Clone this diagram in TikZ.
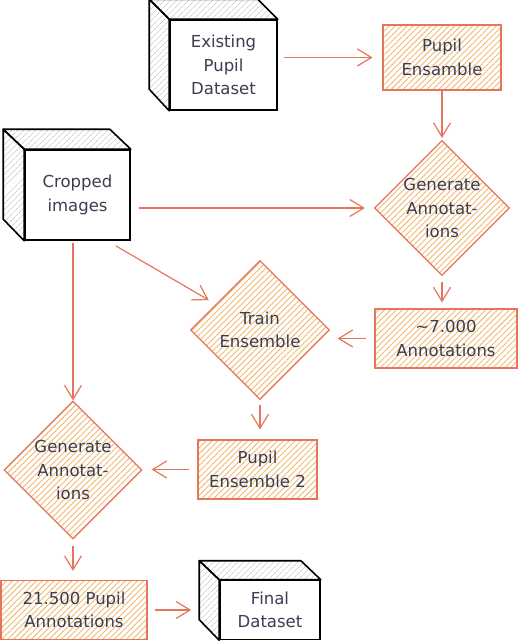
\documentclass[tikz,border=0pt]{standalone}
\usepackage{fontspec}
\setmainfont{DejaVu Sans}
\usetikzlibrary{shapes.geometric,arrows.meta,patterns.meta,calc}
\definecolor{edge}{HTML}{E5765B}
\definecolor{hatch}{HTML}{F2B872}
\definecolor{ink}{HTML}{3A3E52}
\definecolor{cubehatch}{HTML}{B8B8B8}
\tikzset{
 txt/.style={text=ink, font=\fontsize{16.5}{23.5}\selectfont, align=center},
 procbox/.style={txt, draw=edge, line width=1.2pt, pattern={Lines[angle=45,distance=4.2pt,line width=0.9pt]}, pattern color=hatch, inner sep=0pt},
 decide/.style={procbox, shape=diamond, aspect=1, inner sep=-8pt},
 frontface/.style={txt, draw=black, line width=1.6pt, fill=white, inner sep=0pt},
 sideface/.style={draw=black, line width=1.6pt, line join=round, pattern={Lines[angle=45,distance=4pt,line width=0.5pt]}, pattern color=cubehatch},
 arr/.style={draw=edge, line width=1.2pt, -{Straight Barb[length=14pt,width=17pt,line width=1.2pt]}},
}
\begin{document}
\begin{tikzpicture}[x=1pt,y=-1pt]
\useasboundingbox (0,0) rectangle (518,641);

% cube: Existing Pupil Dataset
\node[frontface, minimum width=107pt, minimum height=90pt] (exist) at (223.5,65) {Existing\\Pupil\\Dataset};
\draw[sideface] (exist.north west) -- ++(-20,-20) -- ($(exist.north east)+(-20,-20)$) -- (exist.north east) -- cycle;
\draw[sideface] (exist.north west) -- ++(-20,-20) -- ++(0,90) -- (exist.south west) -- cycle;

% cube: Cropped images
\node[frontface, minimum width=105pt, minimum height=90pt] (crop) at (77.5,195) {Cropped\\images};
\draw[sideface] (crop.north west) -- ++(-21,-20) -- ($(crop.north east)+(-21,-20)$) -- (crop.north east) -- cycle;
\draw[sideface] (crop.north west) -- ++(-21,-20) -- ++(0,90) -- (crop.south west) -- cycle;

% cube: Final Dataset
\node[frontface, minimum width=100pt, minimum height=59pt] (final) at (270,610) {Final\\Dataset};
\draw[sideface] (final.north west) -- ++(-20,-19) -- ($(final.north east)+(-20,-19)$) -- (final.north east) -- cycle;
\draw[sideface] (final.north west) -- ++(-20,-19) -- ++(0,59) -- (final.south west) -- cycle;

% process boxes
\node[procbox, minimum width=118pt, minimum height=65pt] (pe) at (442,57.5) {Pupil\\Ensamble};
\node[procbox, minimum width=142pt, minimum height=59pt] (seven) at (446,338.5) {\textasciitilde7.000\\Annotations};
\node[procbox, minimum width=119pt, minimum height=59pt] (pe2) at (257.5,469.5) {Pupil\\Ensemble 2};
\node[procbox, minimum width=146pt, minimum height=59pt] (ann) at (74,610) {21.500 Pupil\\Annotations};

% decisions
\node[decide, minimum width=135pt, minimum height=135pt] (gen1) at (442,208) {Generate\\Annotat-\\ions};
\node[decide, minimum width=139pt, minimum height=139pt] (train) at (260,330) {Train\\Ensemble};
\node[decide, minimum width=138pt, minimum height=138pt] (gen2) at (73,470) {Generate\\Annotat-\\ions};

% connectors
\draw[arr, shorten <=6pt, shorten >=10pt] (exist.east |- pe.west) -- (pe.west);
\draw[arr, shorten >=2pt] (pe.south) -- (gen1.north);
\draw[arr, shorten <=8pt, shorten >=9pt] (crop.east |- gen1.west) -- (gen1.west);
\draw[arr, shorten >=8pt] ($(crop.south east)+(-15,5)$) -- (train);
\draw[arr, shorten <=2pt] (crop.south -| gen2.north) -- (gen2.north);
\draw[arr, shorten <=6pt, shorten >=6pt] (gen1.south) -- (gen1.south |- seven.north);
\draw[arr, shorten <=8pt, shorten >=7.5pt] (seven.west) -- (seven.west -| train.east);
\draw[arr, shorten <=5pt, shorten >=10pt] (train.south) -- (train.south |- pe2.north);
\draw[arr, shorten <=8pt, shorten >=9pt] (pe2.west) -- (pe2.west -| gen2.east);
\draw[arr, shorten <=6pt, shorten >=9pt] (gen2.south) -- (gen2.south |- ann.north);
\draw[arr, shorten <=7pt, shorten >=28pt] (ann.east) -- (ann.east -| final.west);
\end{tikzpicture}
\end{document}
